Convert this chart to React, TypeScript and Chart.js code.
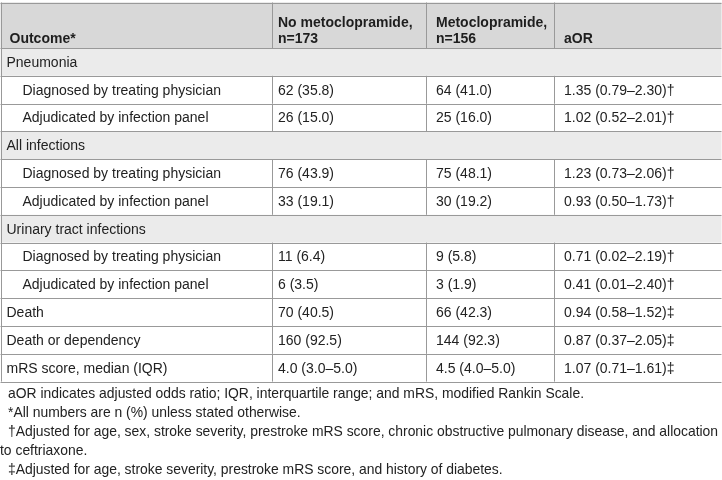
import React, { useEffect, useRef } from "react";
import { Chart, registerables } from "chart.js";

Chart.register(...registerables);

const headerLines = [
  ["Outcome*"],
  ["No metoclopramide,", "n=173"],
  ["Metoclopramide,", "n=156"],
  ["aOR"],
];

const rowLabels = [
  "Pneumonia",
  "Diagnosed by treating physician",
  "Adjudicated by infection panel",
  "All infections",
  "Diagnosed by treating physician",
  "Adjudicated by infection panel",
  "Urinary tract infections",
  "Diagnosed by treating physician",
  "Adjudicated by infection panel",
  "Death",
  "Death or dependency",
  "mRS score, median (IQR)",
];

// "section" rows span the table, "sub" rows are indented
const rowKinds = [
  "section", "sub", "sub",
  "section", "sub", "sub",
  "section", "sub", "sub",
  "plain", "plain", "plain",
];

const noMetoclopramide = [
  "", "62 (35.8)", "26 (15.0)",
  "", "76 (43.9)", "33 (19.1)",
  "", "11 (6.4)", "6 (3.5)",
  "70 (40.5)", "160 (92.5)", "4.0 (3.0–5.0)",
];

const metoclopramide = [
  "", "64 (41.0)", "25 (16.0)",
  "", "75 (48.1)", "30 (19.2)",
  "", "9 (5.8)", "3 (1.9)",
  "66 (42.3)", "144 (92.3)", "4.5 (4.0–5.0)",
];

const aOR = [
  "", "1.35 (0.79–2.30)†", "1.02 (0.52–2.01)†",
  "", "1.23 (0.73–2.06)†", "0.93 (0.50–1.73)†",
  "", "0.71 (0.02–2.19)†", "0.41 (0.01–2.40)†",
  "0.94 (0.58–1.52)‡", "0.87 (0.37–2.05)‡", "1.07 (0.71–1.61)‡",
];

const footnotes = [
  { text: "aOR indicates adjusted odds ratio; IQR, interquartile range; and mRS, modified Rankin Scale.", indent: true },
  { text: "*All numbers are n (%) unless stated otherwise.", indent: true },
  { text: "†Adjusted for age, sex, stroke severity, prestroke mRS score, chronic obstructive pulmonary disease, and allocation", indent: true },
  { text: "to ceftriaxone.", indent: false },
  { text: "‡Adjusted for age, stroke severity, prestroke mRS score, and history of diabetes.", indent: true },
];

// layout (in scale units == px)
const COL_EDGES = [0.5, 272, 426, 554, 721.5];
const TABLE_TOP = 2.5;
const HEADER_BOTTOM = 48;
const ROW_H = 27.8;
const FAMILY = "'Liberation Sans', Arial, sans-serif";
const FONT = `14px ${FAMILY}`;
const FONT_B = `bold 14px ${FAMILY}`;
const FONT_NOTE = `13.9px ${FAMILY}`;

const tablePlugin = {
  id: "tablePlugin",
  afterDraw(chart: any) {
    const ctx = chart.ctx as CanvasRenderingContext2D;
    const xs = chart.scales.x;
    const ys = chart.scales.y;
    const X = (v: number) => xs.getPixelForValue(v);
    const Y = (v: number) => ys.getPixelForValue(v);
    const n = rowLabels.length;
    const rowTop = (i: number) => HEADER_BOTTOM + i * ROW_H;
    const tableBottom = rowTop(n);
    ctx.save();

    // backgrounds
    ctx.fillStyle = "#d8d8d8";
    ctx.fillRect(X(COL_EDGES[0]), Y(TABLE_TOP), X(COL_EDGES[4]) - X(COL_EDGES[0]), Y(HEADER_BOTTOM) - Y(TABLE_TOP));
    ctx.fillStyle = "#ebebeb";
    rowKinds.forEach((k, i) => {
      if (k === "section") {
        ctx.fillRect(X(COL_EDGES[0]), Y(rowTop(i)), X(COL_EDGES[4]) - X(COL_EDGES[0]), Y(rowTop(i + 1)) - Y(rowTop(i)));
      }
    });

    // lines
    ctx.strokeStyle = "#999999";
    ctx.lineWidth = 1;
    const hline = (y: number) => {
      const py = Math.round(Y(y)) + 0.5;
      ctx.beginPath();
      ctx.moveTo(X(COL_EDGES[0]), py);
      ctx.lineTo(X(COL_EDGES[4]), py);
      ctx.stroke();
    };
    const vline = (x: number, y0: number, y1: number) => {
      const px = Math.round(X(x)) + 0.5;
      ctx.beginPath();
      ctx.moveTo(px, Y(y0));
      ctx.lineTo(px, Y(y1));
      ctx.stroke();
    };
    hline(TABLE_TOP);
    hline(HEADER_BOTTOM);
    for (let i = 1; i <= n; i++) hline(rowTop(i));
    vline(COL_EDGES[0], TABLE_TOP, tableBottom);
    vline(COL_EDGES[4], TABLE_TOP, tableBottom);
    for (let c = 1; c < 4; c++) {
      vline(COL_EDGES[c], TABLE_TOP, HEADER_BOTTOM);
      rowKinds.forEach((k, i) => {
        if (k !== "section") vline(COL_EDGES[c], rowTop(i), rowTop(i + 1));
      });
    }

    // header text
    ctx.fillStyle = "#1e1e1e";
    ctx.font = FONT_B;
    ctx.textBaseline = "alphabetic";
    const hdrPad = [9, 6, 10, 10];
    headerLines.forEach((lines, c) => {
      const base = HEADER_BOTTOM - 5;
      lines.forEach((t, li) => {
        const y = base - (lines.length - 1 - li) * 16;
        ctx.fillText(t, X(COL_EDGES[c] + hdrPad[c]), Y(y));
      });
    });

    // body text
    ctx.font = FONT;
    ctx.textBaseline = "middle";
    ctx.fillStyle = "#222222";
    const cols = [noMetoclopramide, metoclopramide, aOR];
    rowLabels.forEach((label, i) => {
      const cy = Y(rowTop(i) + ROW_H / 2 + 1);
      const indent = rowKinds[i] === "sub" ? 22 : 6;
      ctx.fillText(label, X(COL_EDGES[0] + indent), cy);
      cols.forEach((arr, c) => {
        if (arr[i]) ctx.fillText(arr[i], X(COL_EDGES[c + 1] + hdrPad[c + 1]), cy);
      });
    });

    // footnotes
    ctx.font = FONT_NOTE;
    ctx.textBaseline = "middle";
    footnotes.forEach((f, i) => {
      const y = tableBottom + 13 + i * 19;
      ctx.fillText(f.text, X(f.indent ? 8 : 0), Y(y));
    });
    ctx.restore();
  },
};

export default function App() {
  const ref = useRef<HTMLCanvasElement | null>(null);
  useEffect(() => {
    document.body.style.margin = "0";
    document.body.style.background = "#ffffff";
    const canvas = ref.current!;
    const chart = new Chart(canvas, {
      type: "scatter",
      data: { datasets: [{ data: [], pointRadius: 0 }] },
      options: {
        animation: false,
        responsive: false,
        devicePixelRatio: 1,
        layout: { padding: 0 },
        plugins: { legend: { display: false }, tooltip: { enabled: false } },
        scales: {
          x: { type: "linear", min: 0, max: 722, display: false },
          y: { type: "linear", min: 0, max: 480, reverse: true, display: false },
        },
      },
      plugins: [tablePlugin],
    });
    return () => chart.destroy();
  }, []);
  return (
    <div style={{ width: 722, height: 480, background: "#fff" }}>
      <canvas ref={ref} width={722} height={480} style={{ display: "block" }} />
    </div>
  );
}
